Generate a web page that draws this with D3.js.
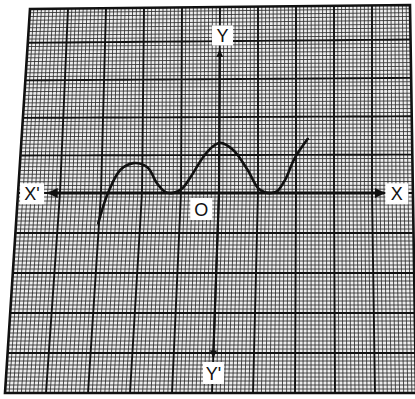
<!DOCTYPE html>
<html>
<head>
<meta charset="utf-8">
<script src="https://cdn.jsdelivr.net/npm/d3@7"></script>
<style>
  body { margin: 0; background: #fff; }
  svg { display: block; }
</style>
</head>
<body>
<div id="graph"></div>
<script>
// curve, in big-square units
var curve_x = [-3.02, -2.83, -2.54, -2.22, -1.87, -1.62, -1.41, -1.21, -0.97, -0.75, -0.42, -0.18, 0.03, 0.36, 0.73, 1.0, 1.18, 1.36, 1.51, 1.71, 1.97, 2.31];
var curve_y = [-0.76, 0, 0.61, 0.79, 0.68, 0.26, 0.03, 0, 0.12, 0.42, 0.95, 1.22, 1.32, 1.13, 0.61, 0.13, 0.02, 0, 0.05, 0.34, 0.92, 1.42];

// paper extent (units) and where the axes stop
var u_min = -5, u_max = 5, v_min = -5, v_max = 4.9;
var x_axis_ends = [-4.28, 4.3];
var y_axis_ends = [3.75, -4.1];
var axis_labels = [
  {text: "Y", u: 0.07, v: 4.15, box: [21, 20]},
  {text: "X'", u: -4.68, v: -0.02, box: [24, 21]},
  {text: "X", u: 4.62, v: -0.02, box: [23, 21]},
  {text: "O", u: -0.45, v: -0.4, box: [22, 22]},
  {text: "Y'", u: 0.02, v: -4.5, box: [21, 22]}
];

var width = 415, height = 399;

var svg = d3.select("#graph").append("svg")
    .attr("width", width)
    .attr("height", height);

// the photographed sheet is not flat: x positions of the big lines at three rows
var u_knots = d3.range(u_min, u_max + 1);
var x_top = d3.scaleLinear().domain(u_knots).range([30, 68, 106, 144, 182, 220, 258, 296, 334, 372, 410]);
var x_mid = d3.scaleLinear().domain(u_knots).range([19, 60, 101, 142, 181, 219, 258, 296, 334, 372, 412]);
var x_bot = d3.scaleLinear().domain(u_knots).range([5, 46, 88, 130, 172, 212, 253, 295, 335, 375, 416]);
var y_left = d3.scaleLinear().domain([v_max, 0, v_min]).range([9, 193, 393]);
var y_right = d3.scaleLinear().domain([v_max, 0, v_min]).range([5, 193, 393]);

function px(u, v) {
  var x;
  if (v >= 0) {
    var w = v / v_max;
    x = x_mid(u) * (1 - w) + x_top(u) * w;
  } else {
    var w = v / v_min;
    x = x_mid(u) * (1 - w) + x_bot(u) * w;
  }
  var s = (u - u_min) / (u_max - u_min);
  var y = y_left(v) * (1 - s) + y_right(v) * s;
  return [x, y];
}

var line = d3.line();

function vline(u, a, b) {
  var pts = [];
  for (var v = a; v >= b - 1e-9; v -= 0.25) pts.push(px(u, v));
  pts.push(px(u, b));
  return line(pts);
}
function hline(v, a, b) {
  var pts = [];
  for (var u = a; u <= b + 1e-9; u += 0.5) pts.push(px(u, v));
  pts.push(px(b, v));
  return line(pts);
}

// paper
var corners = [px(u_min, v_max), px(u_max, v_max), px(u_max, v_min), px(u_min, v_min)];
svg.append("path")
    .attr("d", line(corners) + "Z")
    .attr("fill", "#eeeeee");

// small squares
var minor = svg.append("g")
    .attr("stroke", "#2e2e2e")
    .attr("stroke-width", 0.85)
    .attr("fill", "none");
for (var i = 1; i < 100; i += 1) {
  if (i % 10 == 0) continue;
  minor.append("path").attr("d", vline(u_min + i / 10, v_max, v_min));
}
for (var j = 1; j < 99; j += 1) {
  var v = v_min + j / 10;
  if (Math.abs(v - Math.round(v)) < 1e-6) continue;
  minor.append("path").attr("d", hline(v, u_min, u_max));
}

// big squares
var major = svg.append("g")
    .attr("stroke", "#111")
    .attr("stroke-width", 1.9)
    .attr("fill", "none");
for (var u = u_min + 1; u < u_max; u += 1) {
  major.append("path").attr("d", vline(u, v_max, v_min));
}
for (var v = v_min + 1; v < v_max; v += 1) {
  major.append("path").attr("d", hline(v, u_min, u_max));
}

// sheet border
svg.append("path")
    .attr("d", line(corners) + "Z")
    .attr("fill", "none")
    .attr("stroke", "#111")
    .attr("stroke-width", 2.6);

// axes with arrow heads
var defs = svg.append("defs");
defs.append("marker")
    .attr("id", "arrow")
    .attr("viewBox", "0 0 10 10")
    .attr("refX", 9).attr("refY", 5)
    .attr("markerWidth", 3.4).attr("markerHeight", 3.4)
    .attr("orient", "auto-start-reverse")
  .append("path")
    .attr("d", "M0,0 L10,5 L0,10 Z")
    .attr("fill", "#111");

svg.append("path")
    .attr("d", line([px(x_axis_ends[0], 0), px(x_axis_ends[1], 0)]))
    .attr("stroke", "#111")
    .attr("stroke-width", 3)
    .attr("marker-start", "url(#arrow)")
    .attr("marker-end", "url(#arrow)");

svg.append("path")
    .attr("d", line([px(0, y_axis_ends[0]), px(0, 0), px(0, y_axis_ends[1])]))
    .attr("fill", "none")
    .attr("stroke", "#111")
    .attr("stroke-width", 2.2)
    .attr("marker-start", "url(#arrow)")
    .attr("marker-end", "url(#arrow)");

// the curve
var curve_pts = curve_x.map(function(d, i) { return px(d, curve_y[i]); });
svg.append("path")
    .datum(curve_pts)
    .attr("fill", "none")
    .attr("stroke", "#111")
    .attr("stroke-width", 2.6)
    .attr("stroke-linecap", "round")
    .attr("d", d3.line().curve(d3.curveCatmullRom.alpha(0.5)));

// labels on white patches
var labels = svg.append("g");
axis_labels.forEach(function(d) {
  var p = px(d.u, d.v);
  labels.append("rect")
      .attr("x", p[0] - d.box[0] / 2)
      .attr("y", p[1] - d.box[1] / 2)
      .attr("width", d.box[0])
      .attr("height", d.box[1])
      .attr("fill", "#fff");
  labels.append("text")
      .attr("x", p[0])
      .attr("y", p[1] + 6.5)
      .attr("text-anchor", "middle")
      .attr("font-family", "Liberation Sans, Arial, sans-serif")
      .attr("font-size", 18)
      .attr("fill", "#111")
      .text(d.text);
});
</script>
</body>
</html>
